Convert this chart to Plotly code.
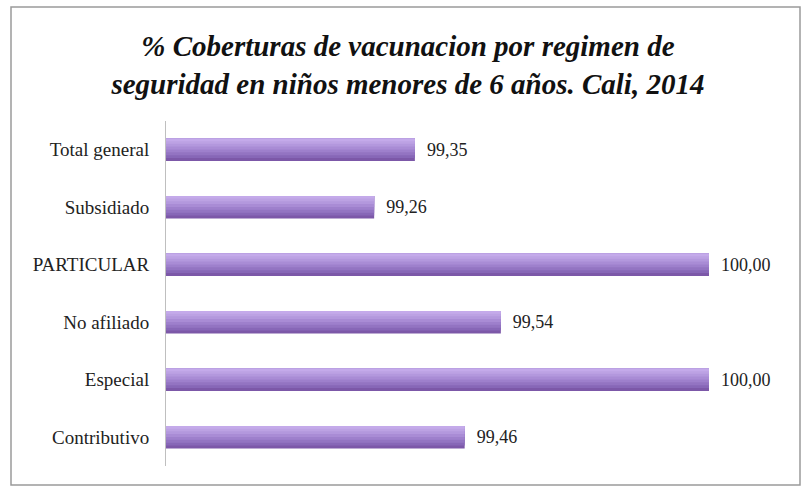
import plotly.graph_objects as go

categories = ["Contributivo", "Especial", "No afiliado", "PARTICULAR", "Subsidiado", "Total general"]
values = [99.46, 100.00, 99.54, 100.00, 99.26, 99.35]
value_labels = ["99,46", "100,00", "99,54", "100,00", "99,26", "99,35"]
title_text = "<b><i>% Coberturas de vacunacion por regimen de<br>seguridad en niños menores de 6 años. Cali, 2014</i></b>"

W, H = 811, 487
L, R, T, B = 166, 102, 121, 21
pw, ph = W - L - R, H - T - B
SERIF = "Liberation Serif, DejaVu Serif, serif"

def px_x(x):
    return (x - L) / pw

def px_y(y):
    return (H - B - y) / ph

fig = go.Figure()
# layered stripes to imitate the vertical gradient of the bars (dark bottom -> light top)
BW = 0.39
stripes = [
    ("#7c58a8", BW),
    ("#8767b7", 0.34),
    ("#9374c2", 0.29),
    ("#9e80cc", 0.24),
    ("#a98cd5", 0.19),
    ("#b398dd", 0.14),
    ("#bca2e3", 0.09),
    ("#c4aaea", 0.045),
]
for i, (col, w) in enumerate(stripes):
    fig.add_trace(go.Bar(
        y=categories, x=values, orientation="h", base=0,
        marker=dict(color=col, line=dict(width=0)),
        width=w, offset=BW / 2 - w,
        text=["\u00a0\u00a0" + t for t in value_labels] if i == 0 else None,
        textposition="outside" if i == 0 else "none",
        textfont=dict(family=SERIF, size=18, color="#222222"),
        cliponaxis=False, hoverinfo="skip",
    ))

fig.update_layout(
    width=W, height=H,
    margin=dict(l=L, r=R, t=T, b=B),
    paper_bgcolor="white", plot_bgcolor="white",
    showlegend=False, barmode="overlay",
    title=dict(text=title_text, x=0.503, xanchor="center", y=0.884, yanchor="middle",
               font=dict(family=SERIF, size=29, color="#111111")),
    xaxis=dict(range=[98.8, 100.0], visible=False, showgrid=False, zeroline=False),
    yaxis=dict(showgrid=False, zeroline=False, showline=True, linecolor="#bfbfbf", linewidth=1,
               ticks="", ticklabelstandoff=12, automargin=False,
               tickfont=dict(family=SERIF, size=19, color="#222222")),
)

fig.add_shape(type="rect", xref="paper", yref="paper",
              x0=px_x(11), x1=px_x(800), y0=px_y(485), y1=px_y(7),
              line=dict(color="#9a9a9a", width=1.5), fillcolor="rgba(0,0,0,0)", layer="below")

fig.write_html("out.html", config={"displayModeBar": False},
               post_script="document.body.style.margin='0';document.body.style.overflow='hidden';")
